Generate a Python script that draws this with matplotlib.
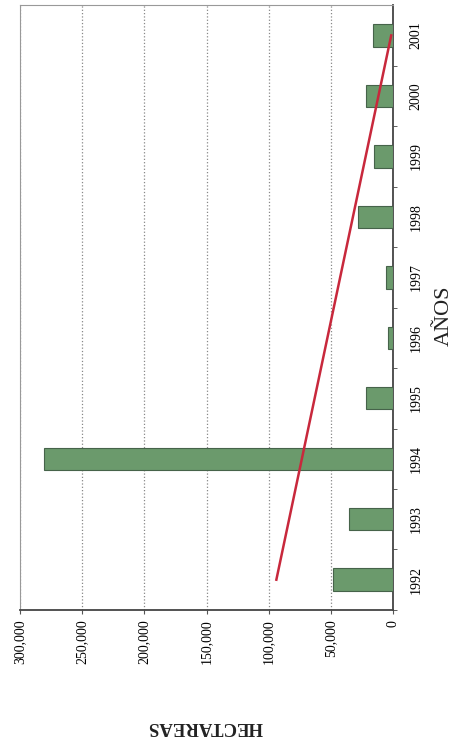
import numpy as np
import matplotlib
matplotlib.use("Agg")
import matplotlib.pyplot as plt
from matplotlib.ticker import FuncFormatter

# datos (hectareas por año)
years = [1992, 1993, 1994, 1995, 1996, 1997, 1998, 1999, 2000, 2001]
hect = [48400, 35500, 280600, 21800, 4000, 5600, 28000, 15300, 21800, 16100]
xticks_vals = [0, 50000, 100000, 150000, 200000, 250000, 300000]

plt.rcParams['font.family'] = ['Liberation Serif', 'DejaVu Serif']

fig = plt.figure(figsize=(4.55, 7.42), dpi=100)
ax = fig.add_axes([0.044, 0.178, 0.82, 0.815])

# barras (grafico girado 90 grados)
ax.barh(years, hect, height=0.37, color='#6b9a6c', edgecolor='#46634a', linewidth=0.8, zorder=3)

# linea de tendencia lineal
coef = np.polyfit(years, hect, 1)
trend = np.polyval(coef, years)
ax.plot([trend[0], trend[-1]], [years[0], years[-1]], color='#c8283c', lw=1.8, zorder=4)

ax.set_xlim(300000, 0)
ax.set_ylim(1991.5, 2001.5)

ax.set_xticks(xticks_vals)
ax.xaxis.set_major_formatter(FuncFormatter(lambda v, p: '{:,}'.format(int(v))))
ax.tick_params(axis='x', labelrotation=90, labelsize=10, length=3, color='#555555', pad=4)
ax.grid(axis='x', linestyle=':', color='#888888', linewidth=0.9, zorder=0)

ax.yaxis.tick_right()
ax.set_yticks(years)
ax.set_yticklabels([str(y) for y in years], rotation=90, va='center')
ax.set_yticks([y + 0.5 for y in years[:-1]] + [1991.5], minor=True)
ax.tick_params(axis='y', which='major', length=0, labelsize=10, pad=12)
ax.tick_params(axis='y', which='minor', length=3, color='#444444', right=True, left=False)

for side in ['top', 'left']:
    ax.spines[side].set_color('#999999')
    ax.spines[side].set_linewidth(0.8)
for side in ['right', 'bottom']:
    ax.spines[side].set_color('#444444')
    ax.spines[side].set_linewidth(1.3)

fig.text(205 / 455, 1 - 727 / 742, 'HECTAREAS', rotation=180, fontsize=13.5,
         fontweight='bold', ha='center', va='center', color='#222222')
fig.text(444 / 455, 1 - 316 / 742, 'AÑOS', rotation=90, fontsize=16,
         ha='center', va='center', color='#222222')

fig.savefig('out.png', dpi=100)
